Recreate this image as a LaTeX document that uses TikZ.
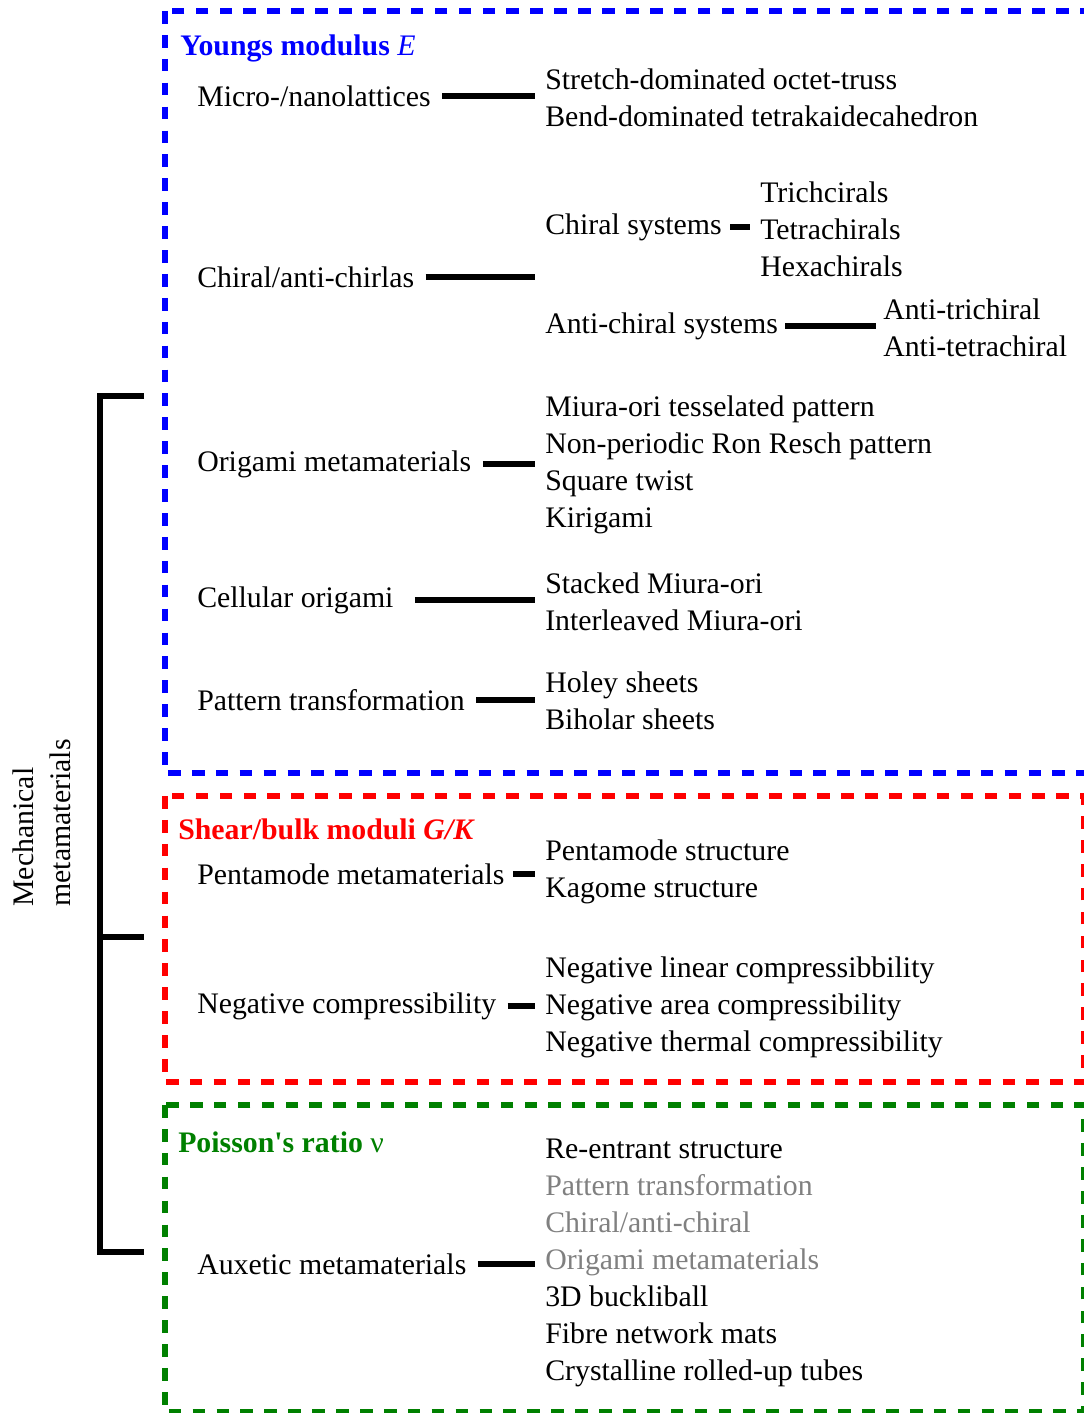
\documentclass[tikz,border=0pt]{standalone}
\usepackage{fontspec}
\setmainfont{Liberation Serif}
\usetikzlibrary{positioning}
\definecolor{boxgreen}{RGB}{0,128,0}
\tikzset{
  item/.style={anchor=west,inner sep=0pt,font=\fontsize{21.2}{26.4}\selectfont,align=left},
  head/.style={item,font=\fontsize{21.2}{26.4}\selectfont\bfseries},
  conn/.style={line width=4.2pt,shorten <=8pt,shorten >=7pt},
  frame/.style={line width=4pt,dash pattern=on 9pt off 8pt}
}
\begin{document}
\begin{tikzpicture}[x=0.025cm,y=-0.025cm]
\useasboundingbox (0,0) rectangle (1084,1413);
\clip (0,0) rectangle (1084,1413);
\draw[frame,blue] (165,11) rectangle (1110,773);
\draw[frame,red] (165,796) rectangle (1084,1082);
\draw[frame,boxgreen] (165,1105) rectangle (1084,1412);

\node[head,blue] (youngs) at (180,48) {Youngs modulus \textmd{\textit{E}}};
\node[head,red] (shear) at (178,829) {Shear/bulk moduli \textit{G/K}};
\node[head,boxgreen] (poisson) at (178,1142) {Poisson\textquotesingle s ratio \textmd{ν}};

\node[item] (micro) at (197,96) {Micro-/nanolattices};
\node[item] (microR) at (545,97.5) {Stretch-dominated octet-truss\\Bend-dominated tetrakaidecahedron};
\draw[conn] (micro.east) -- (micro.east -| microR.west);

\node[item] (chiral) at (197,277) {Chiral/anti-chirlas};
\coordinate (chiralJ) at (545,277);
\draw[conn] (chiral.east) -- (chiral.east -| chiralJ);
\node[item] (chiralsys) at (545,227) {Chiral systems};
\node[item] (chiralR) at (760,229) {Trichcirals\\Tetrachirals\\Hexachirals};
\draw[conn,shorten <=6pt] (chiralsys.east) -- (chiralsys.east -| chiralR.west);
\node[item] (antisys) at (545,326) {Anti-chiral systems};
\node[item] (antiR) at (883,328) {Anti-trichiral\\Anti-tetrachiral};
\draw[conn,shorten <=5pt,shorten >=5pt] (antisys.east) -- (antisys.east -| antiR.west);

\node[item] (origami) at (197,464) {Origami metamaterials};
\node[item] (origamiR) at (545,465) {Miura-ori tesselated pattern\\Non-periodic Ron Resch pattern\\Square twist\\Kirigami};
\draw[conn] (origami.east) -- (origami.east -| origamiR.west);

\node[item] (cellular) at (197,600) {Cellular origami};
\node[item] (cellularR) at (545,601.5) {Stacked Miura-ori\\Interleaved Miura-ori};
\draw[conn,shorten <=15pt] (cellular.east) -- (cellular.east -| cellularR.west);

\node[item] (pattern) at (197,700) {Pattern transformation};
\node[item] (patternR) at (545,700.5) {Holey sheets\\Biholar sheets};
\draw[conn] (pattern.east) -- (pattern.east -| patternR.west);

\node[item] (penta) at (197,874) {Pentamode metamaterials};
\node[item] (pentaR) at (545,872) {Pentamode structure\\Kagome structure};
\draw[conn,shorten <=6pt] (penta.east) -- (penta.east -| pentaR.west);

\node[item] (negcomp) at (197,1006) {Negative compressibility};
\node[item] (negcompR) at (545,1007) {Negative linear compressibbility\\Negative area compressibility\\Negative thermal compressibility};
\draw[conn] (negcomp.east) -- (negcomp.east -| negcompR.west);

\node[item] (auxetic) at (197,1264) {Auxetic metamaterials};
\node[item] (auxeticR) at (545,1263) {Re-entrant structure\\\textcolor{black!50}{Pattern transformation}\\\textcolor{black!50}{Chiral/anti-chiral}\\\textcolor{black!50}{Origami metamaterials}\\3D buckliball\\Fibre network mats\\Crystalline rolled-up tubes};
\draw[conn] (auxetic.east) -- (auxetic.east -| auxeticR.west);

\node[item,anchor=center,rotate=90] (mech) at (42,823) {Mechanical\\metamaterials};
\draw[line width=4.2pt] (144,396) -- (100,396) -- (100,1252) -- (144,1252);
\draw[line width=4.2pt] (100,937) -- (144,937);
\end{tikzpicture}
\end{document}
